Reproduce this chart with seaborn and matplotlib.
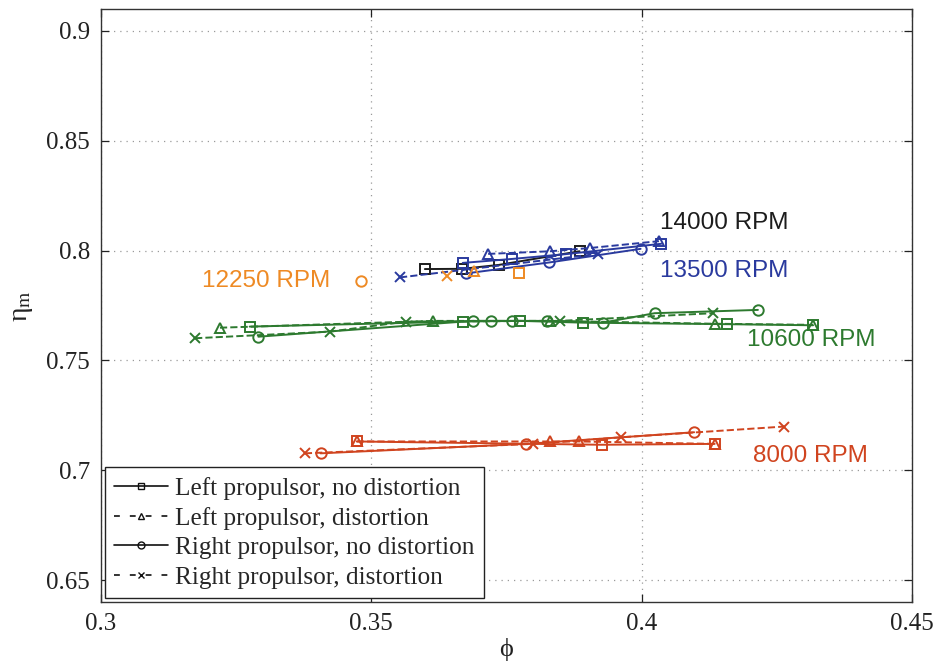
import matplotlib
matplotlib.use("Agg")
import matplotlib.pyplot as plt
from matplotlib.lines import Line2D
import seaborn as sns

# ---- measured efficiency vs. flow coefficient ----
# 14000 RPM (left propulsor, no distortion only)
phi_14000_left = [0.3599, 0.3668, 0.3736, 0.3885]
eta_14000_left = [0.7916, 0.7917, 0.7935, 0.7997]

# 13500 RPM
phi_13500_left = [0.3669, 0.3760, 0.3860, 0.4036]
eta_13500_left = [0.7944, 0.7962, 0.7984, 0.8031]
phi_13500_left_d = [0.3716, 0.3831, 0.3905, 0.4032]
eta_13500_left_d = [0.7985, 0.7997, 0.8012, 0.8043]
phi_13500_right = [0.3675, 0.3829, 0.3998]
eta_13500_right = [0.7896, 0.7946, 0.8008]
phi_13500_right_d = [0.3553, 0.3919]
eta_13500_right_d = [0.7878, 0.7985]

# 12250 RPM (single operating points)
phi_12250_left = [0.3774]
eta_12250_left = [0.7898]
phi_12250_left_d = [0.3690]
eta_12250_left_d = [0.7909]
phi_12250_right = [0.3480]
eta_12250_right = [0.7860]
phi_12250_right_d = [0.3640]
eta_12250_right_d = [0.7886]

# 10600 RPM
phi_10600_left = [0.3275, 0.3670, 0.3775, 0.3891, 0.4157, 0.4317]
eta_10600_left = [0.7654, 0.7677, 0.7680, 0.7672, 0.7665, 0.7660]
phi_10600_left_d = [0.3220, 0.3614, 0.3830, 0.4135, 0.4317]
eta_10600_left_d = [0.7649, 0.7680, 0.7680, 0.7667, 0.7662]
phi_10600_right = [0.3291, 0.3688, 0.3722, 0.3760, 0.3824, 0.3928, 0.4024, 0.4215]
eta_10600_right = [0.7608, 0.7680, 0.7680, 0.7680, 0.7680, 0.7672, 0.7715, 0.7730]
phi_10600_right_d = [0.3174, 0.3423, 0.3565, 0.3848, 0.4132]
eta_10600_right_d = [0.7601, 0.7631, 0.7677, 0.7680, 0.7715]

# 8000 RPM
phi_8000_left = [0.3473, 0.3926, 0.4135]
eta_8000_left = [0.7131, 0.7116, 0.7120]
phi_8000_left_d = [0.3473, 0.3830, 0.3884, 0.4135]
eta_8000_left_d = [0.7131, 0.7131, 0.7131, 0.7120]
phi_8000_right = [0.3406, 0.3786, 0.4097]
eta_8000_right = [0.7077, 0.7120, 0.7173]
phi_8000_right_d = [0.3377, 0.3799, 0.3962, 0.4264]
eta_8000_right_d = [0.7077, 0.7120, 0.7150, 0.7199]

series_labels = [
    "Left propulsor, no distortion",
    "Left propulsor, distortion",
    "Right propulsor, no distortion",
    "Right propulsor, distortion",
]
rpm_labels = ["14000 RPM", "13500 RPM", "12250 RPM", "10600 RPM", "8000 RPM"]
x_ticks = [0.3, 0.35, 0.4, 0.45]
x_tick_labels = ["0.3", "0.35", "0.4", "0.45"]
y_ticks = [0.65, 0.7, 0.75, 0.8, 0.85, 0.9]
y_tick_labels = ["0.65", "0.7", "0.75", "0.8", "0.85", "0.9"]

# ---- styling ----
colors = {
    "14000 RPM": "#1c1c1c",
    "13500 RPM": "#2a3a9e",
    "12250 RPM": "#ee8a24",
    "10600 RPM": "#2d7a2f",
    "8000 RPM": "#d0441f",
}
styles = [("s", "-"), ("^", "--"), ("o", "-"), ("x", "--")]

groups = {
    "14000 RPM": [(phi_14000_left, eta_14000_left), None, None, None],
    "13500 RPM": [(phi_13500_left, eta_13500_left), (phi_13500_left_d, eta_13500_left_d),
                  (phi_13500_right, eta_13500_right), (phi_13500_right_d, eta_13500_right_d)],
    "12250 RPM": [(phi_12250_left, eta_12250_left), (phi_12250_left_d, eta_12250_left_d),
                  (phi_12250_right, eta_12250_right), (phi_12250_right_d, eta_12250_right_d)],
    "10600 RPM": [(phi_10600_left, eta_10600_left), (phi_10600_left_d, eta_10600_left_d),
                  (phi_10600_right, eta_10600_right), (phi_10600_right_d, eta_10600_right_d)],
    "8000 RPM": [(phi_8000_left, eta_8000_left), (phi_8000_left_d, eta_8000_left_d),
                 (phi_8000_right, eta_8000_right), (phi_8000_right_d, eta_8000_right_d)],
}

label_pos = {
    "14000 RPM": (0.4033, 0.8126),
    "13500 RPM": (0.4033, 0.7905),
    "12250 RPM": (0.3186, 0.7860),
    "10600 RPM": (0.4194, 0.7593),
    "8000 RPM": (0.4206, 0.7067),
}

sns.set_theme(style="white")
plt.rcParams["font.family"] = ["Liberation Serif", "DejaVu Serif"]
plt.rcParams["mathtext.fontset"] = "stix"

fig = plt.figure(figsize=(9.38, 6.62), dpi=100)
ax = fig.add_axes([0.1077, 0.0906, 0.8646, 0.8958])

for rpm in rpm_labels:
    c = colors[rpm]
    for data, (mk, ls) in zip(groups[rpm], styles):
        if data is None:
            continue
        phi, eta = data
        sns.lineplot(x=phi, y=eta, ax=ax, sort=False, estimator=None,
                     color=c, linestyle=ls, linewidth=1.4,
                     marker=mk, markersize=7.5 if mk != "x" else 6.5,
                     markerfacecolor="none", markeredgecolor=c,
                     markeredgewidth=1.4, dashes=False if ls == "-" else (4, 4))
    tx, ty = label_pos[rpm]
    ax.text(tx, ty, rpm, color=c, fontsize=17.5, family="Liberation Sans",
            ha="left", va="center")

ax.set_xlim(0.3, 0.45)
ax.set_ylim(0.64, 0.91)
ax.set_xticks(x_ticks)
ax.set_xticklabels(x_tick_labels)
ax.set_yticks(y_ticks)
ax.set_yticklabels(y_tick_labels)
ax.tick_params(direction="in", length=6, width=0.9, labelsize=18,
               top=True, right=True, bottom=True, left=True, colors="#222222",
               labelcolor="#222222", pad=8)
ax.grid(True, linestyle=(0, (1, 4)), color="#9a9a9a", linewidth=0.9)
for sp in ax.spines.values():
    sp.set_color("#333333")
    sp.set_linewidth(1.0)

ax.set_xlabel("ϕ", fontsize=19, color="#222222", labelpad=2,
              family=["Liberation Serif", "DejaVu Serif"])
ax.set_ylabel(r"η$_{\mathrm{m}}$", fontsize=20, color="#222222", labelpad=8)

handles = []
for mk, ls in styles:
    h = Line2D([], [], color="#111111", marker=mk, markersize=5,
               markerfacecolor="none", linewidth=1.2)
    if ls == "--":
        h.set_dashes((3.5, 6))
    handles.append(h)
leg = ax.legend(handles, series_labels, loc="lower left", fontsize=18.2,
                frameon=True, fancybox=False, framealpha=1, edgecolor="#222222",
                borderaxespad=0.15, handlelength=2.1, handletextpad=0.3,
                labelspacing=0.27, borderpad=0.38)
leg.get_frame().set_linewidth(1.0)

fig.savefig("out.png", dpi=100)
